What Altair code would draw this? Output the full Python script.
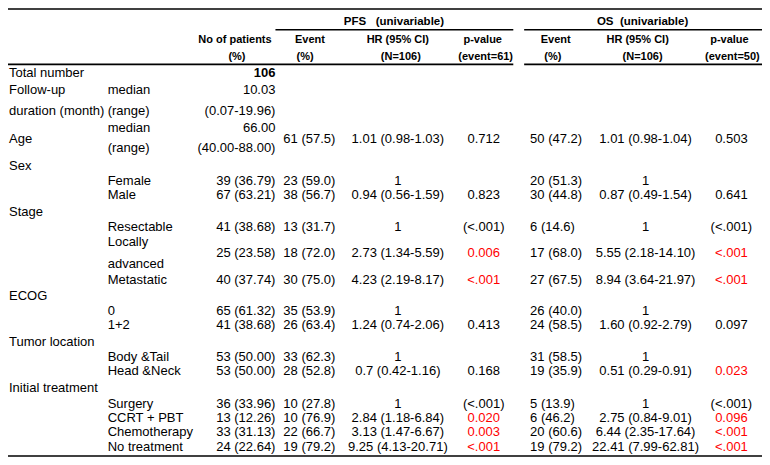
import altair as alt
import pandas as pd

NB = "\u00a0"

# ---------------- content ----------------
HEAD_TOP = ["PFS" + NB * 3 + "(univariable)", "OS" + NB * 2 + "(univariable)"]
HEAD_MID = ["No of patients", "Event", "HR (95% CI)", "p-value", "Event", "HR (95% CI)", "p-value"]
HEAD_LOW = ["(%)", "(%)", "(N=106)", "(event=61)", "(%)", "(N=106)", "(event=50)"]

LABELS = ["Total number", "Follow-up", "duration (month)", "", "Age", "", "Sex", "", "",
          "Stage", "", "", "", "", "", "ECOG", "", "", "Tumor location", "", "",
          "Initial treatment", "", "", "", ""]
SUBLABELS = ["", "median", "(range)", "median", "", "(range)", "", "Female", "Male",
             "", "Resectable", "Locally", "", "advanced", "Metastatic", "", "0", "1+2", "",
             "Body &Tail", "Head &Neck", "", "Surgery", "CCRT + PBT", "Chemotherapy", "No treatment"]
N_PATIENTS = ["106", "10.03", "(0.07-19.96)", "66.00", "", "(40.00-88.00)", "", "39 (36.79)", "67 (63.21)",
              "", "41 (38.68)", "", "25 (23.58)", "", "40 (37.74)", "", "65 (61.32)", "41 (38.68)", "",
              "53 (50.00)", "53 (50.00)", "", "36 (33.96)", "13 (12.26)", "33 (31.13)", "24 (22.64)"]
PFS_EVENT = ["", "", "", "", "61 (57.5)", "", "", "23 (59.0)", "38 (56.7)",
             "", "13 (31.7)", "", "18 (72.0)", "", "30 (75.0)", "", "35 (53.9)", "26 (63.4)", "",
             "33 (62.3)", "28 (52.8)", "", "10 (27.8)", "10 (76.9)", "22 (66.7)", "19 (79.2)"]
PFS_HR = ["", "", "", "", "1.01 (0.98-1.03)", "", "", "1", "0.94 (0.56-1.59)",
          "", "1", "", "2.73 (1.34-5.59)", "", "4.23 (2.19-8.17)", "", "1", "1.24 (0.74-2.06)", "",
          "1", "0.7 (0.42-1.16)", "", "1", "2.84 (1.18-6.84)", "3.13 (1.47-6.67)", "9.25 (4.13-20.71)"]
PFS_P = ["", "", "", "", "0.712", "", "", "", "0.823",
         "", "(<.001)", "", "0.006", "", "<.001", "", "", "0.413", "",
         "", "0.168", "", "(<.001)", "0.020", "0.003", "<.001"]
PFS_P_SIG = [0, 0, 0, 0, 0, 0, 0, 0, 0,
             0, 0, 0, 1, 0, 1, 0, 0, 0, 0,
             0, 0, 0, 0, 1, 1, 1]
OS_EVENT = ["", "", "", "", "50 (47.2)", "", "", "20 (51.3)", "30 (44.8)",
            "", NB * 4 + "6 (14.6)", "", NB * 2 + "17 (68.0)", "", NB * 2 + "27 (67.5)", "", "26 (40.0)", "24 (58.5)", "",
            "31 (58.5)", "19 (35.9)", "", NB + "5 (13.9)", NB + "6 (46.2)", "20 (60.6)", "19 (79.2)"]
OS_HR = ["", "", "", "", "1.01 (0.98-1.04)", "", "", "1", "0.87 (0.49-1.54)",
         "", "1", "", "5.55 (2.18-14.10)", "", "8.94 (3.64-21.97)", "", "1", "1.60 (0.92-2.79)", "",
         "1", "0.51 (0.29-0.91)", "", "1", "2.75 (0.84-9.01)", "6.44 (2.35-17.64)", "22.41 (7.99-62.81)"]
OS_P = ["", "", "", "", "0.503", "", "", "", "0.641",
        "", "(<.001)", "", "<.001", "", "<.001", "", "", "0.097", "",
        "", "0.023", "", "(<.001)", "0.096", "<.001", "<.001"]
OS_P_SIG = [0, 0, 0, 0, 0, 0, 0, 0, 0,
            0, 0, 0, 1, 0, 1, 0, 0, 0, 0,
            0, 1, 0, 0, 1, 1, 1]

# ---------------- layout (table geometry, in reference pixels) ----------------
LINE_Y = [69, 86, 107, 124, 135, 145, 163, 178, 192, 209, 224, 240, 251, 262, 278,
          294, 309, 324, 341, 356, 370, 387, 403, 418, 432, 447]
HEAD_Y = [17, 35, 53]
HEAD_TOP_X = [395, 647]
HEAD_MID_X = [234, 310, 399, 485, 559, 642, 735]
HEAD_LOW_X = [236, 305, 402, 488, 556, 647, 738]
COL = {"label": 5, "sub": 105, "n": 275, "pfs_ev": 283, "pfs_hr": 399, "pfs_p": 486,
       "os_ev": 533, "os_hr": 650, "os_p": 737}
RULES = [(0, 768, 4), (275, 516, 25), (527, 768, 25), (0, 516, 60), (527, 768, 60), (0, 768, 456)]

W, H = 754, 449
FONT = "Liberation Sans"
xs = alt.Scale(domain=[4, 768], zero=False, nice=False, clamp=True)
ys = alt.Scale(domain=[3, 457], zero=False, nice=False, reverse=True)

# ---------------- build tables ----------------
head_rows = []
for t, x in zip(HEAD_TOP, HEAD_TOP_X):
    head_rows.append({"text": t, "x": x, "y": HEAD_Y[0]})
sub_rows = []
for t, x in zip(HEAD_MID, HEAD_MID_X):
    sub_rows.append({"text": t, "x": x, "y": HEAD_Y[1]})
for t, x in zip(HEAD_LOW, HEAD_LOW_X):
    sub_rows.append({"text": t, "x": x, "y": HEAD_Y[2]})

left_rows, right_rows, bold_rows, center_rows = [], [], [], []
for i, y in enumerate(LINE_Y):
    for arr, key in ((LABELS, "label"), (SUBLABELS, "sub"), (PFS_EVENT, "pfs_ev"), (OS_EVENT, "os_ev")):
        if arr[i]:
            left_rows.append({"text": arr[i], "x": COL[key], "y": y})
    if N_PATIENTS[i]:
        (bold_rows if i == 0 else right_rows).append({"text": N_PATIENTS[i], "x": COL["n"], "y": y})
    for arr, key in ((PFS_HR, "pfs_hr"), (OS_HR, "os_hr")):
        if arr[i]:
            center_rows.append({"text": arr[i], "x": COL[key], "y": y, "c": "#000000"})
    for arr, sig, key in ((PFS_P, PFS_P_SIG, "pfs_p"), (OS_P, OS_P_SIG, "os_p")):
        if arr[i]:
            center_rows.append({"text": arr[i], "x": COL[key], "y": y,
                                "c": "#FF0000" if sig[i] else "#000000"})

rule_df = pd.DataFrame([{"x": a, "x2": b, "y": y} for a, b, y in RULES])


def enc(chart):
    return chart.encode(x=alt.X("x:Q", scale=xs, axis=None),
                        y=alt.Y("y:Q", scale=ys, axis=None),
                        text="text:N")


rules = alt.Chart(rule_df).mark_rule(color="#000000", strokeWidth=1.6).encode(
    x=alt.X("x:Q", scale=xs, axis=None), x2="x2:Q",
    y=alt.Y("y:Q", scale=ys, axis=None))

titles = enc(alt.Chart(pd.DataFrame(head_rows)).mark_text(font=FONT, fontSize=11.5, fontWeight="bold",
                                                          align="center", baseline="middle", color="#000000"))
heads = enc(alt.Chart(pd.DataFrame(sub_rows)).mark_text(font=FONT, fontSize=11, fontWeight="bold",
                                                        align="center", baseline="middle", color="#000000"))
lefts = enc(alt.Chart(pd.DataFrame(left_rows)).mark_text(font=FONT, fontSize=13, align="left",
                                                         baseline="middle", color="#000000"))
rights = enc(alt.Chart(pd.DataFrame(right_rows)).mark_text(font=FONT, fontSize=13, align="right",
                                                           baseline="middle", color="#000000"))
bolds = enc(alt.Chart(pd.DataFrame(bold_rows)).mark_text(font=FONT, fontSize=13, fontWeight="bold",
                                                         align="right", baseline="middle", color="#000000"))
centers = enc(alt.Chart(pd.DataFrame(center_rows)).mark_text(font=FONT, fontSize=13, align="center",
                                                             baseline="middle")).encode(
    color=alt.Color("c:N", scale=None))

chart = alt.layer(rules, titles, heads, lefts, rights, bolds, centers).properties(
    width=W, height=H, padding=0, autosize=alt.AutoSizeParams(type="none"),
    background="#ffffff"
).configure_view(stroke=None)

chart.save("out.html", embed_options={"renderer": "svg", "actions": False})
